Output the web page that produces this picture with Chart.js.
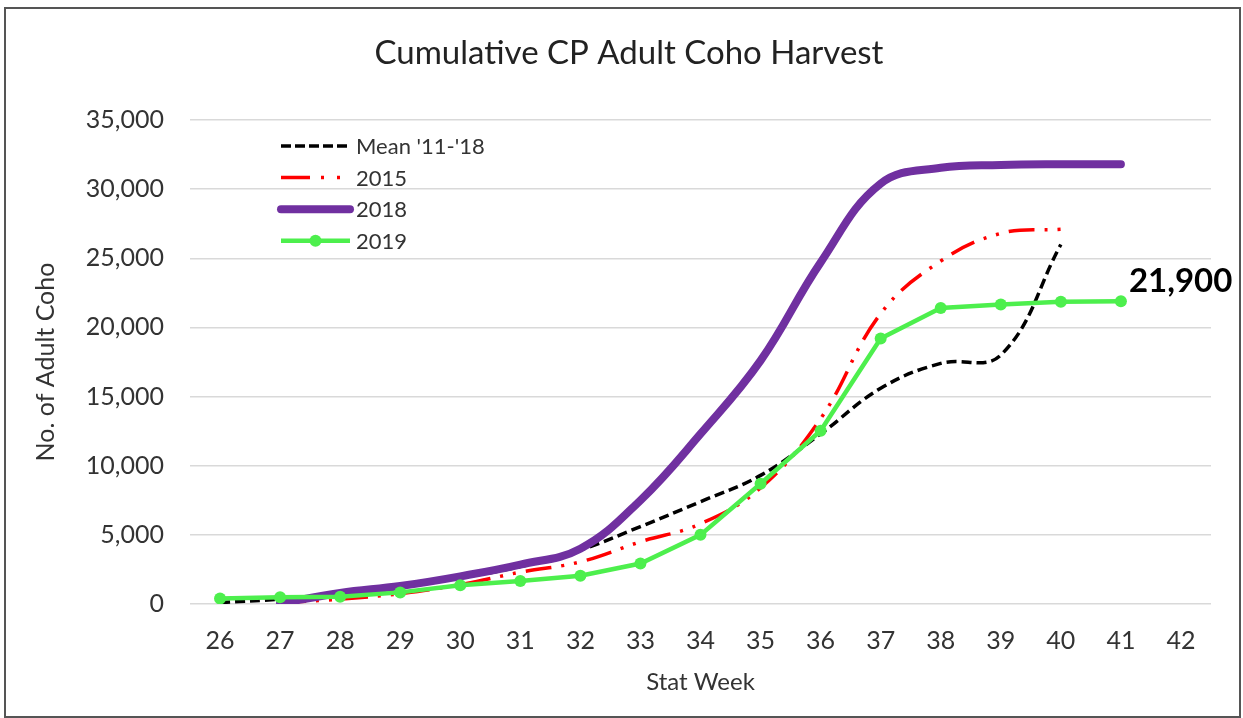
<!DOCTYPE html>
<html>
<head>
<meta charset="utf-8">
<script src="https://cdn.jsdelivr.net/npm/chart.js@4.4.0/dist/chart.umd.min.js"></script>
<style>
  html, body { margin: 0; padding: 0; background: #fff; }
  #wrap { width: 1243px; height: 718px; }
</style>
</head>
<body>
<div id="wrap"><canvas id="c" width="1243" height="718"></canvas></div>
<script>
// ---- data ----
const chartTitle = 'Cumulative CP Adult Coho Harvest';
const xTitle = 'Stat Week';
const yTitle = 'No. of Adult Coho';
const weeks = ['26','27','28','29','30','31','32','33','34','35','36','37','38','39','40','41','42'];
const meanLabel = "Mean '11-'18";
const meanValues = [100, 350, 700, 1200, 1900, 2700, 3900, 5600, 7400, 9300, 12300, 15600, 17400, 18000, 26000, null, null];
const y2015Label = '2015';
const y2015Values = [null, 100, 350, 750, 1400, 2300, 3050, 4500, 5800, 8400, 13400, 21000, 24800, 26800, 27100, null, null];
const y2018Label = '2018';
const y2018Values = [null, 50, 800, 1300, 2000, 2850, 4000, 7500, 12300, 17600, 24700, 30400, 31550, 31750, 31800, 31800, null];
const y2019Label = '2019';
const y2019Values = [400, 480, 520, 840, 1350, 1660, 2050, 2930, 5000, 8700, 12530, 19200, 21400, 21650, 21850, 21900, null];
const yMin = 0, yMax = 35000, yStep = 5000;

Chart.defaults.font.family = 'Lato, "Open Sans", sans-serif';

const framePlugin = {
  id: 'frame',
  beforeDraw(chart) {
    const ctx = chart.ctx;
    ctx.save();
    ctx.fillStyle = '#fff';
    ctx.fillRect(0, 0, chart.width, chart.height);
    ctx.strokeStyle = '#555';
    ctx.lineWidth = 2;
    ctx.strokeRect(5, 8, 1235, 709);
    ctx.restore();
  },
  afterDraw(chart) {
    const ctx = chart.ctx;
    ctx.save();
    ctx.fillStyle = '#222';
    ctx.font = '33px Lato, sans-serif';
    ctx.textAlign = 'center';
    ctx.textBaseline = 'middle';
    ctx.fillText(chartTitle, 629, 53);
    ctx.restore();
  }
};

const legendPlugin = {
  id: 'customLegend',
  afterDraw(chart) {
    const ctx = chart.ctx;
    const x0 = 281, x1 = 350, tx = 356, y0 = 146, dy = 31.6;
    chart.data.datasets.forEach((ds, i) => {
      const y = y0 + i * dy;
      ctx.save();
      ctx.strokeStyle = ds.borderColor;
      ctx.lineWidth = ds.borderWidth;
      ctx.setLineDash(ds.legendDash || []);
      ctx.lineCap = ds.borderCapStyle || 'butt';
      ctx.beginPath();
      ctx.moveTo(x0, y);
      ctx.lineTo(x1, y);
      ctx.stroke();
      ctx.setLineDash([]);
      if (ds.pointRadius > 0) {
        ctx.fillStyle = ds.pointBackgroundColor;
        ctx.beginPath();
        ctx.arc((x0 + x1) / 2, y, ds.pointRadius, 0, Math.PI * 2);
        ctx.fill();
      }
      ctx.fillStyle = '#333';
      ctx.font = '22px Lato, sans-serif';
      ctx.textBaseline = 'middle';
      ctx.textAlign = 'left';
      ctx.fillText(ds.label, tx, y + 1);
      ctx.restore();
    });
  }
};

const endLabelPlugin = {
  id: 'endLabel',
  afterDraw(chart) {
    const idx = 3;
    const ds = chart.data.datasets[idx];
    let last = -1;
    ds.data.forEach((v, i) => { if (v !== null) last = i; });
    const pt = chart.getDatasetMeta(idx).data[last];
    const ctx = chart.ctx;
    ctx.save();
    ctx.fillStyle = '#000';
    ctx.font = 'bold 33px Lato, sans-serif';
    ctx.textAlign = 'left';
    ctx.textBaseline = 'middle';
    ctx.fillText(ds.data[last].toLocaleString('en-US'), pt.x + 8, pt.y - 20);
    ctx.restore();
  }
};

new Chart(document.getElementById('c'), {
  type: 'line',
  data: {
    labels: weeks,
    datasets: [
      {
        label: meanLabel, data: meanValues, order: 3,
        borderColor: '#000000', borderWidth: 3.5, borderDash: [10, 5], legendDash: [10, 4],
        tension: 0.4, pointRadius: 0, fill: false
      },
      {
        label: y2015Label, data: y2015Values, order: 2,
        borderColor: '#FF0000', borderWidth: 3.5, borderDash: [26, 10, 3, 10, 3, 10], legendDash: [29, 11, 3, 13, 3, 13],
        tension: 0.4, pointRadius: 0, fill: false
      },
      {
        label: y2018Label, data: y2018Values, order: 1,
        borderColor: '#7030A0', borderWidth: 8, borderCapStyle: 'round', borderJoinStyle: 'round',
        tension: 0.4, pointRadius: 0, fill: false
      },
      {
        label: y2019Label, data: y2019Values, order: 0,
        borderColor: '#4DEF4D', borderWidth: 4.5, tension: 0,
        pointRadius: 6, pointHoverRadius: 6, pointBackgroundColor: '#4DEF4D', pointBorderWidth: 0,
        fill: false
      }
    ]
  },
  options: {
    responsive: false,
    animation: false,
    devicePixelRatio: 1,
    layout: { padding: { left: 27, right: 32, top: 120, bottom: 17 } },
    plugins: {
      legend: { display: false },
      tooltip: { enabled: false },
      title: { display: false }
    },
    scales: {
      x: {
        type: 'category', offset: true,
        grid: { display: false, drawTicks: false },
        border: { display: false },
        ticks: { color: '#333', font: { size: 25 }, padding: 22, maxRotation: 0, autoSkip: false },
        title: { display: true, text: xTitle, color: '#333', font: { size: 24 } },
        afterFit: s => { s.height = 97; }
      },
      y: {
        min: yMin, max: yMax,
        grid: { color: '#d9d9d9', lineWidth: 1.5, drawTicks: false },
        border: { display: false },
        ticks: {
          stepSize: yStep, color: '#333', font: { size: 25 }, padding: 26,
          callback: v => Number(v).toLocaleString('en-US')
        },
        title: { display: true, text: yTitle, color: '#333', font: { size: 25 } },
        afterFit: s => { s.width = 163; }
      }
    }
  },
  plugins: [framePlugin, legendPlugin, endLabelPlugin]
});
</script>
</body>
</html>
